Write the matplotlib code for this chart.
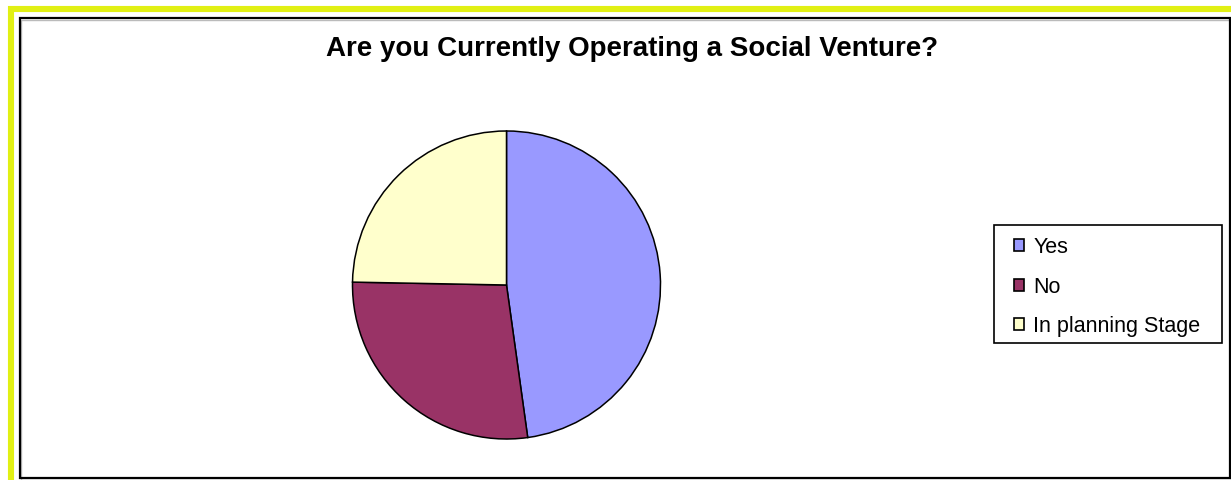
import matplotlib
matplotlib.use("Agg")
import matplotlib.pyplot as plt
from matplotlib.patches import Rectangle

# survey answers (share of respondents)
labels = ["Yes", "No", "In planning Stage"]
values = [47.8, 27.5, 24.7]
colors = ["#9999FF", "#993366", "#FFFFCC"]

W, H = 1231, 480
fig = plt.figure(figsize=(W / 100, H / 100), dpi=100)
plt.rcParams['font.family'] = ['Liberation Sans', 'DejaVu Sans']

def fx(x):
    return x / W

def fy(y):
    return 1 - y / H

def box(x0, y0, x1, y1, **kw):
    fig.patches.append(Rectangle((fx(x0), fy(y1)), fx(x1) - fx(x0), fy(y0) - fy(y1),
                                 transform=fig.transFigure, fill=False, **kw))

# yellow outer border (runs off the right and bottom of the picture)
box(11, 9, 1240, 490, edgecolor="#E1F014", linewidth=4.4)
# black chart frame with a faint grey shadow
box(21, 19.5, 1231, 479.5, edgecolor="#BBBBBB", linewidth=1.0)
box(20, 17.5, 1229.5, 477.5, edgecolor="black", linewidth=1.6)

fig.text(fx(632.5), fy(49), "Are you Currently Operating a Social Venture?",
         ha="center", va="center", fontsize=20, fontweight="bold")

cx, cy, r = 506.5, 285, 154
ax = fig.add_axes([fx(cx - r), fy(cy + r), 2 * r / W, 2 * r / H])
wedges, _ = ax.pie(values, colors=colors, startangle=90, counterclock=False,
                   wedgeprops=dict(edgecolor="black", linewidth=1.1))
ax.set_xlim(-1, 1)
ax.set_ylim(-1, 1)
ax.set_aspect("equal")
ax.axis("off")

# legend box drawn separately so its padding matches
box(994.5, 224.5, 1222, 342.5, edgecolor="black", linewidth=1.2)
leg = fig.legend(wedges, labels, loc="upper left",
                 bbox_to_anchor=(fx(1014), fy(237)), fontsize=15.5,
                 frameon=False, handlelength=0.47, handleheight=0.47,
                 handletextpad=0.42, labelspacing=0.86, borderpad=0,
                 borderaxespad=0)
for h in leg.legend_handles:
    h.set_linewidth(1.2)

fig.savefig("out.png", dpi=100)
